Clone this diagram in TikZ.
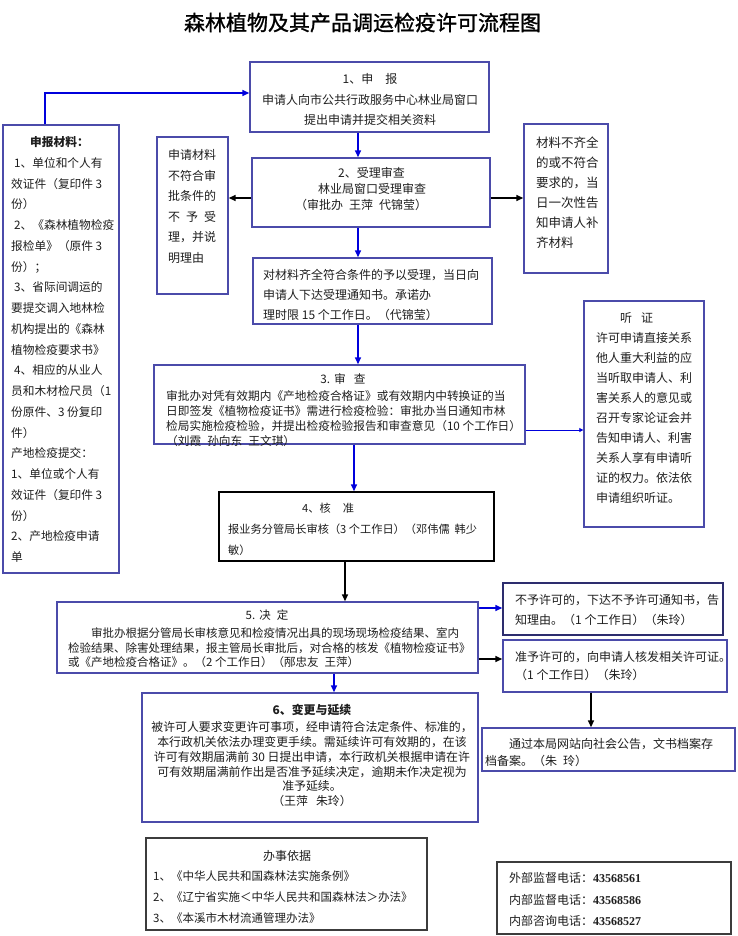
\documentclass[tikz,border=0pt]{standalone}
\usepackage{fontspec}
\setmainfont{Noto Sans CJK SC}
\newfontfamily\titlefont[FakeBold=1.2]{Noto Sans CJK SC}
\newfontfamily\numfont{Liberation Serif}
\usetikzlibrary{arrows.meta}
\definecolor{boxc}{RGB}{75,75,170}
\definecolor{navyc}{RGB}{45,45,110}
\definecolor{arrb}{RGB}{0,0,220}
\definecolor{txtc}{RGB}{30,30,30}
\definecolor{grayc}{RGB}{60,60,60}
\newcommand\myfs[2]{\fontsize{#1pt}{#2pt}\selectfont}
\begin{document}
\begin{tikzpicture}[x=1pt,y=-1pt,
 box/.style={draw=boxc, line width=1.4pt, inner sep=0pt},
 kbox/.style={draw=black, line width=1.4pt, inner sep=0pt},
 gbox/.style={draw=grayc, line width=1.4pt, inner sep=0pt},
 txt/.style={inner sep=0pt, anchor=north west, align=left, text=txtc},
 ctxt/.style={inner sep=0pt, anchor=north, align=center, text=txtc},
 barrow/.style={draw=arrb, line width=1.5pt, -{Triangle[length=7pt,width=6pt]}},
 tharrow/.style={draw=arrb, line width=0.8pt, -{Triangle[length=4pt,width=4pt]}},
 karrow/.style={draw=black, line width=1.5pt, -{Triangle[length=7pt,width=6pt]}}]
\fill[white] (0,0) rectangle (738,936);
\useasboundingbox (0,0) rectangle (738,936);

% title
\node[inner sep=0pt, anchor=north, text=black, font=\titlefont\myfs{21}{25}] (title) at (362.5,12.5) {森林植物及其产品调运检疫许可流程图};

% boxes
\node[box, minimum width=239pt, minimum height=70pt] (b1) at (369.5,97) {};
\node[box, minimum width=116pt, minimum height=448pt] (bL) at (61,349) {};
\node[box, minimum width=71pt, minimum height=157pt] (bN) at (192.5,215.5) {};
\node[box, minimum width=238pt, minimum height=69pt] (b2) at (371,192.5) {};
\node[box, minimum width=84pt, minimum height=149pt] (bR) at (566,198.5) {};
\node[box, minimum width=239pt, minimum height=66pt] (b2b) at (372.5,291) {};
\node[box, minimum width=371pt, minimum height=79pt] (b3) at (339.5,404.5) {};
\node[box, minimum width=120pt, minimum height=226pt] (bH) at (644,414) {};
\node[kbox, minimum width=275pt, minimum height=69pt] (b4) at (356.5,526.5) {};
\node[box, minimum width=421pt, minimum height=71pt] (b5) at (267.5,637.5) {};
\node[draw=navyc, line width=1.4pt, inner sep=0pt, minimum width=220pt, minimum height=52pt] (bNo) at (613,609) {};
\node[box, minimum width=224pt, minimum height=52pt] (bYes) at (615,666) {};
\node[box, minimum width=253pt, minimum height=43pt] (bPub) at (608.5,749.5) {};
\node[box, minimum width=336pt, minimum height=129pt] (b6) at (310,757.5) {};
\node[gbox, minimum width=281pt, minimum height=92pt] (bBa) at (286.5,884) {};
\node[gbox, minimum width=234pt, minimum height=72pt] (bTel) at (614,898) {};

% texts
\node[ctxt, font=\myfs{12}{20.5}] (t1) at (370,73.4) {1、申\hspace{12pt}报\\申请人向市公共行政服务中心林业局窗口\\提出申请并提交相关资料};

\node[txt, font=\myfs{11.7}{20.75}] (tL) at (11,136.5) {\hspace*{19pt}\textbf{申报材料：}\\
\hspace*{3pt}1、单位和个人有\\效证件（复印件 3\\份）\\
\hspace*{3pt}2、《森林植物检疫\\报检单》（原件 3\\份）；\\
\hspace*{3pt}3、省际间调运的\\要提交调入地林检\\机构提出的《森林\\植物检疫要求书》\\
\hspace*{3pt}4、相应的从业人\\员和木材检尺员（1\\份原件、3 份复印\\件）\\
产地检疫提交：\\1、单位或个人有\\效证件（复印件 3\\份）\\2、产地检疫申请\\单};

\node[txt, font=\myfs{12}{20.5}] (tN) at (168,149.4) {申请材料\\不符合审\\批条件的\\不\hspace{6pt}予\hspace{6pt}受\\理，并说\\明理由};

\node[txt, font=\myfs{12}{16}] (t2) at (295,167.4) {\hspace*{43pt}2、受理审查\\\hspace*{23pt}林业局窗口受理审查\\（审批办\hspace{6pt}王萍\hspace{6pt}代锦莹）};

\node[txt, font=\myfs{12.5}{20}] (tR) at (536,137.1) {材料不齐全\\的或不符合\\要求的，当\\日一次性告\\知申请人补\\齐材料};

\node[txt, font=\myfs{12}{20}] (t2b) at (263,269.4) {对材料齐全符合条件的予以受理，当日向\\申请人下达受理通知书。承诺办\\理时限 15 个工作日。（代锦莹）};

\node[ctxt, font=\myfs{11.7}{15}] (t3a) at (343,373.5) {3.\hspace{4pt}审\hspace{8pt}查};
\node[txt, font=\myfs{11.7}{15}] (t3b) at (166,390.5) {审批办对凭有效期内《产地检疫合格证》或有效期内中转换证的当\\日即签发《植物检疫证书》需进行检疫检验：审批办当日通知市林\\检局实施检疫检验，并提出检疫检验报告和审查意见（10 个工作日）\\（刘霞\hspace{6pt}孙向东\hspace{6pt}王文琪）};

\node[txt, font=\myfs{12}{20}] (tH) at (596,312.4) {\hspace*{24pt}听\hspace{9pt}证\\许可申请直接关系\\他人重大利益的应\\当听取申请人、利\\害关系人的意见或\\召开专家论证会并\\告知申请人、利害\\关系人享有申请听\\证的权力。依法依\\申请组织听证。};

\node[txt, font=\myfs{11.2}{21}] (t4) at (228,502.5) {\hspace*{74pt}4、核\hspace{12pt}准\\报业务分管局长审核（3 个工作日）（邓伟儒\hspace{5pt}韩少\\敏）};

\node[ctxt, font=\myfs{11.5}{14.5}] (t5a) at (267,609.6) {5.\hspace{4pt}决\hspace{6pt}定};
\node[txt, font=\myfs{11.5}{14.5}] (t5b) at (68,627.6) {\hspace*{23pt}审批办根据分管局长审核意见和检疫情况出具的现场现场检疫结果、室内\\检验结果、除害处理结果，报主管局长审批后，对合格的核发《植物检疫证书》\\或《产地检疫合格证》。（2 个工作日）（邴忠友\hspace{6pt}王萍）};

\node[txt, font=\myfs{12}{20}] (tNo) at (515,594.4) {不予许可的，下达不予许可通知书，告\\知理由。（1 个工作日）（朱玲）};
\node[txt, font=\myfs{12}{18}] (tYes) at (515,651.4) {准予许可的，向申请人核发相关许可证。\\（1 个工作日）（朱玲）};
\node[txt, font=\myfs{12}{17}] (tPub) at (485,738.4) {\hspace*{24pt}通过本局网站向社会公告，文书档案存\\档备案。（朱\hspace{6pt}玲）};

\node[ctxt, font=\myfs{11.9}{14.7}] (t6) at (312,704.4) {\textbf{6、变更与延续}\\[2.3pt]被许可人要求变更许可事项，经申请符合法定条件、标准的，\\本行政机关依法办理变更手续。需延续许可有效期的，在该\\许可有效期届满前 30 日提出申请，本行政机关根据申请在许\\可有效期届满前作出是否准予延续决定，逾期未作决定视为\\准予延续。\\（王萍\hspace{8pt}朱玲）};

\node[ctxt, font=\myfs{12}{21}] (tBa1) at (287,850.4) {办事依据};
\node[txt, font=\myfs{11.5}{21}] (tBa2) at (153,870.6) {1、《中华人民共和国森林法实施条例》\\2、《辽宁省实施＜中华人民共和国森林法＞办法》\\3、《本溪市木材流通管理办法》};

\node[txt, font=\myfs{12}{21.5}] (tTel) at (509,872.4) {外部监督电话：{\numfont\bfseries 43568561}\\内部监督电话：{\numfont\bfseries 43568586}\\内部咨询电话：{\numfont\bfseries 43568527}};

% connectors
\coordinate (cA) at (45,93);
\draw[barrow] (bL.north -| cA) -- (cA) -- (b1.west |- cA);
\coordinate (cB) at (358,0);
\draw[barrow] (b1.south -| cB) -- (b2.north -| cB);
\coordinate (cC) at (0,198);
\draw[karrow] (b2.west |- cC) -- (bN.east |- cC);
\draw[karrow] (b2.east |- cC) -- (bR.west |- cC);
\draw[barrow] (b2.south -| cB) -- (b2b.north -| cB);
\draw[barrow] (b2b.south -| cB) -- (b3.north -| cB);
\coordinate (cD) at (0,430);
\draw[tharrow] (b3.east |- cD) -- (bH.west |- cD);
\coordinate (cE) at (354,0);
\draw[barrow] (b3.south -| cE) -- (b4.north -| cE);
\coordinate (cF) at (345,0);
\draw[karrow] (b4.south -| cF) -- (b5.north -| cF);
\coordinate (cG) at (334,0);
\draw[barrow] (b5.south -| cG) -- (b6.north -| cG);
\coordinate (cH) at (0,608);
\draw[barrow] (b5.east |- cH) -- (bNo.west |- cH);
\coordinate (cI) at (0,659);
\draw[karrow] (b5.east |- cI) -- (bYes.west |- cI);
\coordinate (cJ) at (591,0);
\draw[karrow] (bYes.south -| cJ) -- (bPub.north -| cJ);
\end{tikzpicture}
\end{document}
